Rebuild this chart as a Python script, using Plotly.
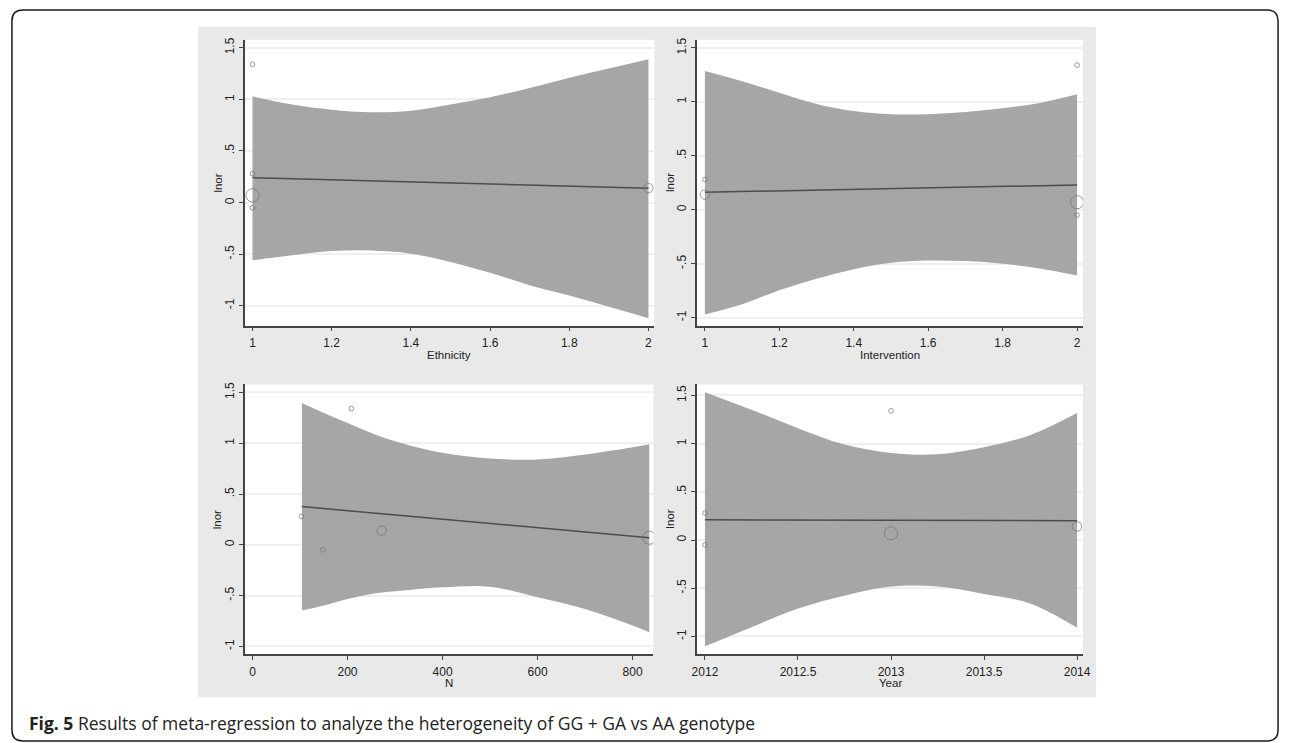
import plotly.graph_objects as go

W, H = 1292, 743

# ---------------- data ----------------
# five studies
lnor = [1.34, 0.28, -0.05, 0.07, 0.14]
ethnicity = [1, 1, 1, 1, 2]
intervention = [2, 1, 2, 2, 1]
n_subjects = [208, 103, 148, 835, 272]
year = [2013, 2012, 2012, 2013, 2014]
study_weight = [1.0, 1.0, 1.0, 2.8, 2.0]   # relative symbol weight

# fitted meta-regression lines (endpoints)
eth_fit_x = [1, 2]
eth_fit_y = [0.242, 0.14]
int_fit_x = [1, 2]
int_fit_y = [0.162, 0.23]
n_fit_x = [104, 835]
n_fit_y = [0.376, 0.07]
year_fit_x = [2012, 2014]
year_fit_y = [0.21, 0.20]

# confidence bands
eth_band_x = [1, 1.1, 1.2, 1.3, 1.4, 1.5, 1.6, 1.7, 1.8, 1.9, 2]
eth_band_hi = [1.03, 0.95, 0.90, 0.875, 0.89, 0.95, 1.02, 1.11, 1.21, 1.30, 1.39]
eth_band_lo = [-0.56, -0.51, -0.47, -0.465, -0.495, -0.575, -0.68, -0.80, -0.90, -1.01, -1.12]

int_band_x = [1, 1.1, 1.2, 1.3, 1.4, 1.5, 1.6, 1.7, 1.8, 1.9, 2]
int_band_hi = [1.285, 1.19, 1.085, 0.98, 0.915, 0.885, 0.885, 0.905, 0.94, 0.99, 1.07]
int_band_lo = [-0.97, -0.875, -0.745, -0.64, -0.55, -0.49, -0.47, -0.475, -0.50, -0.545, -0.61]

n_band_x = [104, 150, 200, 250, 300, 400, 500, 600, 700, 800, 835]
n_band_hi = [1.395, 1.297, 1.199, 1.101, 1.02, 0.905, 0.85, 0.84, 0.889, 0.961, 0.99]
n_band_lo = [-0.647, -0.598, -0.533, -0.484, -0.458, -0.418, -0.412, -0.516, -0.631, -0.794, -0.86]

year_band_x = [2012, 2012.25, 2012.5, 2012.75, 2013, 2013.25, 2013.5, 2013.75, 2014]
year_band_hi = [1.534, 1.352, 1.16, 0.99, 0.904, 0.89, 0.963, 1.09, 1.317]
year_band_lo = [-1.103, -0.904, -0.71, -0.577, -0.483, -0.483, -0.559, -0.66, -0.91]

# tick labels
y_tickvals = [-1, -0.5, 0, 0.5, 1, 1.5]
y_ticktext = ["-1", "-.5", "0", ".5", "1", "1.5"]
eth_ticks = [1, 1.2, 1.4, 1.6, 1.8, 2]
eth_ticktext = ["1", "1.2", "1.4", "1.6", "1.8", "2"]
n_ticks = [0, 200, 400, 600, 800]
n_ticktext = ["0", "200", "400", "600", "800"]
year_ticks = [2012, 2012.5, 2013, 2013.5, 2014]
year_ticktext = ["2012", "2012.5", "2013", "2013.5", "2014"]

x_titles = ["Ethnicity", "Intervention", "N", "Year"]
y_title = "lnor"
caption_bold = "Fig. 5"
caption_text = "Results of meta-regression to analyze the heterogeneity of GG + GA vs AA genotype"

# ---------------- styling ----------------
BAND = "#a6a6a6"
LINE = "#4d4d4d"
MARK = "#707070"
AXIS = "#444444"
GRID = "#efefef"
TXT = "#222222"
FONT = "Liberation Sans, Arial, sans-serif"
marker_px = [w * 4.7 for w in study_weight]

# panel plot regions in pixels: (x0, x1, ytop, ybottom)
panels = {
    1: (242, 656, 37, 324),
    2: (699, 1089, 37, 324),
    3: (242, 655, 383, 654),
    4: (699, 1089, 383, 654),
}
x_ranges = {1: [0.98, 2.015], 2: [0.9787, 2.016], 3: [-16.7, 843.75], 4: [2011.957, 2014.032]}
y_ranges = {1: [-1.193, 1.577], 2: [-1.074, 1.574], 3: [-1.078, 1.578], 4: [-1.186, 1.614]}

panel_data = {
    1: (ethnicity, eth_fit_x, eth_fit_y, eth_band_x, eth_band_hi, eth_band_lo, eth_ticks, eth_ticktext),
    2: (intervention, int_fit_x, int_fit_y, int_band_x, int_band_hi, int_band_lo, eth_ticks, eth_ticktext),
    3: (n_subjects, n_fit_x, n_fit_y, n_band_x, n_band_hi, n_band_lo, n_ticks, n_ticktext),
    4: (year, year_fit_x, year_fit_y, year_band_x, year_band_hi, year_band_lo, year_ticks, year_ticktext),
}

fig = go.Figure()
layout = dict(
    autosize=True,
    margin=dict(l=0, r=0, t=0, b=0, pad=0),
    paper_bgcolor="white", plot_bgcolor="white",
    showlegend=False,
    font=dict(family=FONT, size=12, color=TXT),
)
annotations = []
shapes = []

for k, (xv, fx, fy, bx, bhi, blo, xt, xtt) in panel_data.items():
    suffix = "" if k == 1 else str(k)
    xa, ya = "x" + suffix, "y" + suffix
    x0, x1, yt, yb = panels[k]
    # band
    fig.add_trace(go.Scatter(x=bx, y=blo, mode="lines", line=dict(color=BAND, width=0, shape="spline"),
                             xaxis=xa, yaxis=ya, hoverinfo="skip"))
    fig.add_trace(go.Scatter(x=bx, y=bhi, mode="lines", line=dict(color=BAND, width=0, shape="spline"),
                             fill="tonexty", fillcolor=BAND, xaxis=xa, yaxis=ya, hoverinfo="skip"))
    # fit line
    fig.add_trace(go.Scatter(x=fx, y=fy, mode="lines", line=dict(color=LINE, width=1.5),
                             xaxis=xa, yaxis=ya))
    # study markers
    fig.add_trace(go.Scatter(x=xv, y=lnor, mode="markers",
                             marker=dict(symbol="circle-open", size=marker_px, color=MARK,
                                         line=dict(width=1, color=MARK)),
                             xaxis=xa, yaxis=ya))

    layout["xaxis" + suffix] = dict(
        domain=[x0 / W, x1 / W], range=x_ranges[k], anchor=ya,
        showgrid=False, zeroline=False, showline=True, linecolor=AXIS, linewidth=1.5,
        ticks="outside", ticklen=4, tickcolor=AXIS, tickwidth=1.2,
        tickvals=xt, ticktext=xtt, tickfont=dict(size=12, color=TXT),
        ticklabelstandoff=1,
    )
    layout["yaxis" + suffix] = dict(
        domain=[1 - yb / H, 1 - yt / H], range=y_ranges[k], anchor=xa,
        showgrid=True, gridcolor=GRID, gridwidth=1.5, zeroline=False,
        showline=True, linecolor=AXIS, linewidth=1.5,
        ticks="outside", ticklen=4, tickcolor=AXIS, tickwidth=1.2,
        tickvals=y_tickvals, ticktext=y_ticktext, tickangle=-90,
        tickfont=dict(size=12, color=TXT),
    )
    # axis titles
    xc = (x0 + x1) / 2
    annotations.append(dict(text=x_titles[k - 1], x=xc / W, y=1 - (yb + 29) / H,
                            xref="paper", yref="paper", showarrow=False,
                            xanchor="center", yanchor="middle",
                            font=dict(size=11.5, color=TXT, family=FONT)))
    annotations.append(dict(text=y_title, x=(x0 - 27) / W, y=1 - ((yt + yb) / 2) / H,
                            xref="paper", yref="paper", showarrow=False, textangle=-90,
                            xanchor="center", yanchor="middle",
                            font=dict(size=11.5, color=TXT, family=FONT)))

# grey graph region
shapes.append(dict(type="rect", xref="paper", yref="paper", layer="below",
                   x0=195 / W, x1=1102 / W, y0=1 - 697 / H, y1=1 - 24 / H,
                   fillcolor="#e9e9e9", line=dict(width=0)))
# white plot regions drawn over grey (below traces)
for k, (x0, x1, yt, yb) in panels.items():
    shapes.append(dict(type="rect", xref="paper", yref="paper", layer="below",
                       x0=x0 / W, x1=x1 / W, y0=1 - yb / H, y1=1 - yt / H,
                       fillcolor="white", line=dict(width=0)))

# rounded outer border
bx0, bx1, by0, by1 = 7 / W, 1286 / W, 1 - 741 / H, 1 - 7 / H
rx, ry = 11 / W, 11 / H
path = (f"M {bx0+rx},{by1} L {bx1-rx},{by1} Q {bx1},{by1} {bx1},{by1-ry} "
        f"L {bx1},{by0+ry} Q {bx1},{by0} {bx1-rx},{by0} "
        f"L {bx0+rx},{by0} Q {bx0},{by0} {bx0},{by0+ry} "
        f"L {bx0},{by1-ry} Q {bx0},{by1} {bx0+rx},{by1} Z")
shapes.append(dict(type="path", xref="paper", yref="paper", path=path,
                   line=dict(color="#1a1a1a", width=1.5)))

annotations.append(dict(text=f"<b>{caption_bold}</b> {caption_text}",
                        x=22 / W, y=1 - 723 / H, xref="paper", yref="paper",
                        showarrow=False, xanchor="left", yanchor="middle",
                        font=dict(family="Open Sans, Noto Sans, sans-serif", size=17.5, color=TXT)))

layout["annotations"] = annotations
layout["shapes"] = shapes
fig.update_layout(**layout)

fig.write_html("out.html", config={"displayModeBar": False},
               default_width=f"{W}px",
               default_height=f"{H}px; position:absolute; left:0px; top:0px")
